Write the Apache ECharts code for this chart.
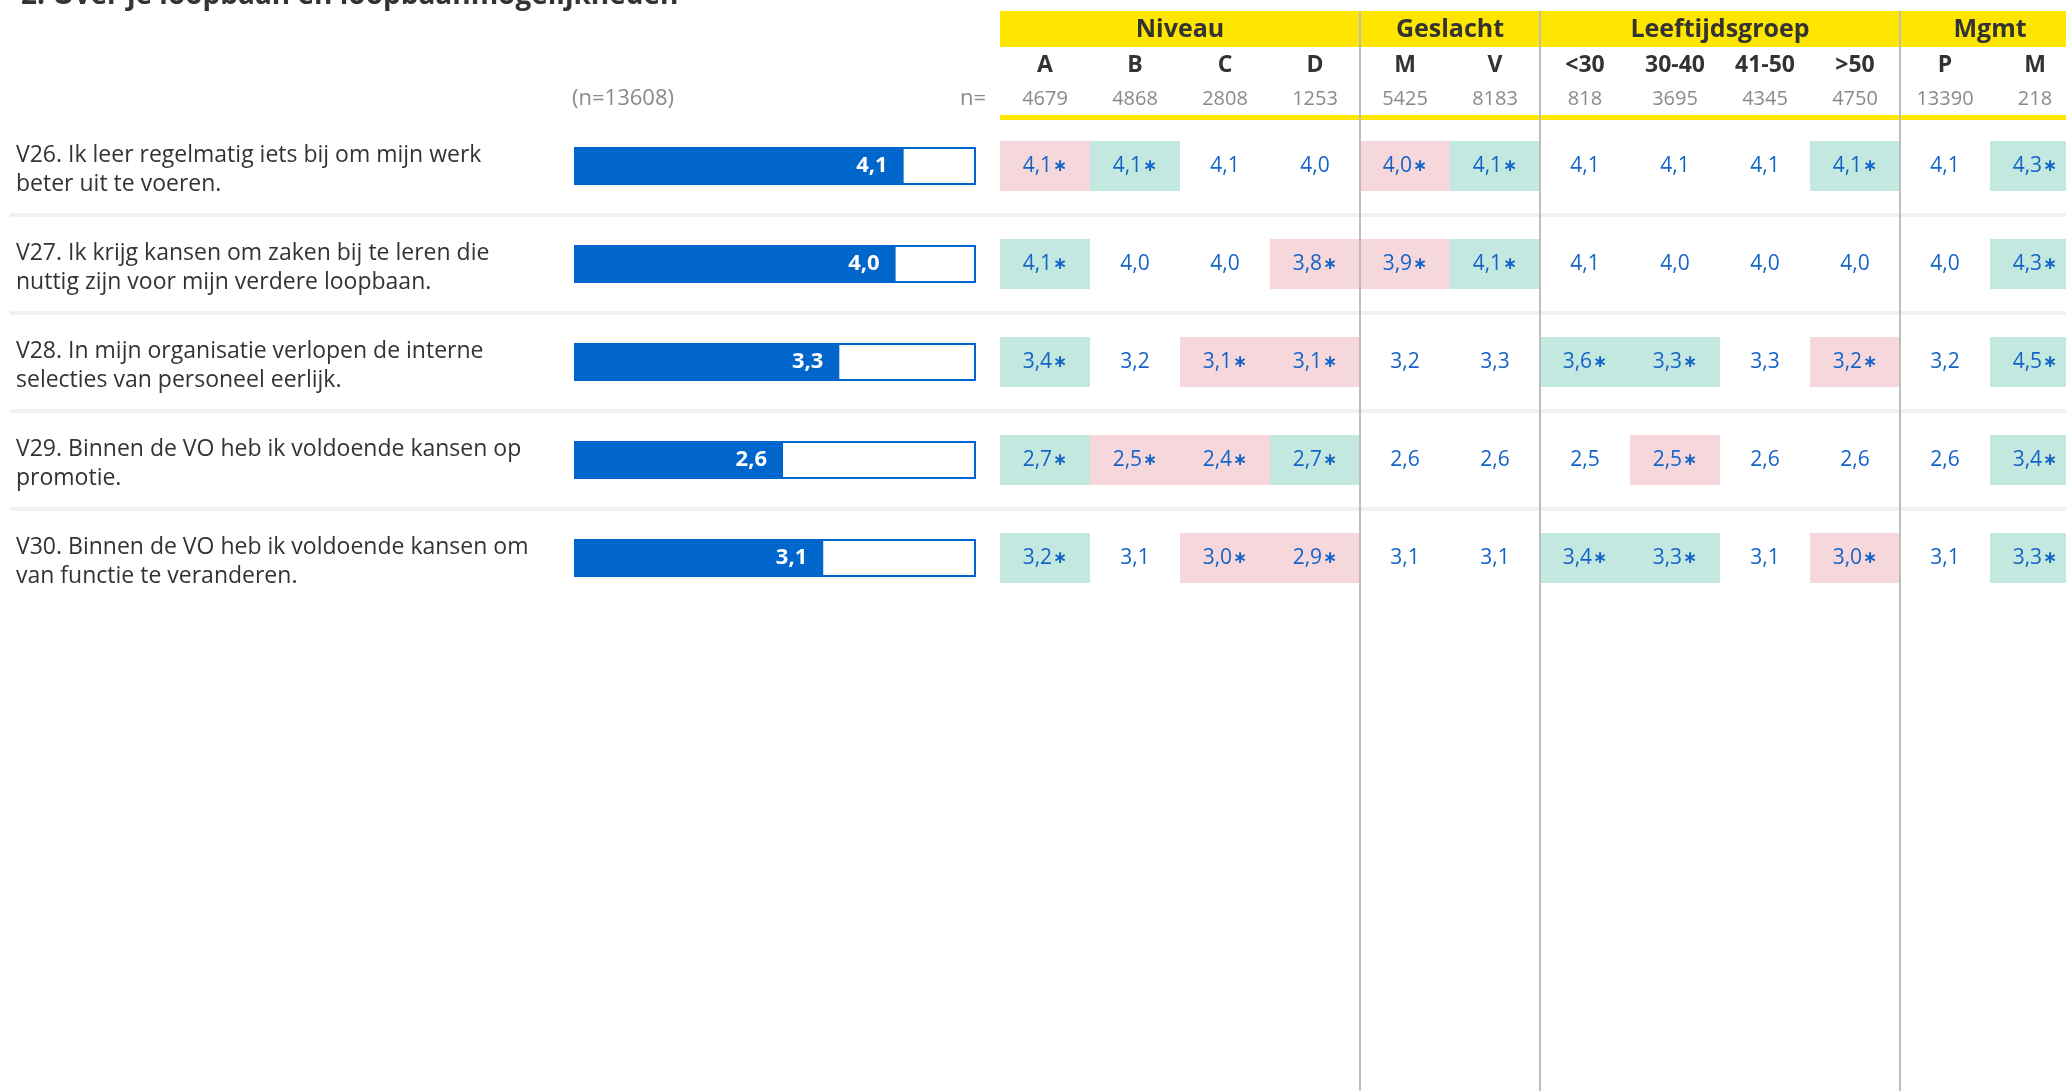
<!DOCTYPE html>
<html>
<head>
<meta charset="utf-8">
<title>Loopbaan en loopbaanmogelijkheden</title>
<script src="https://cdn.jsdelivr.net/npm/echarts@6/dist/echarts.min.js"></script>
<style>
html, body { margin: 0; padding: 0; background: #ffffff; }
#surveyChart { width: 2066px; height: 1091px; }
</style>
</head>
<body>
<div id="surveyChart"></div>
<script>
// gegevens
var titleText = '2. Over je loopbaan en loopbaanmogelijkheden';
var totalN = 13608;
var questions = [
	'V26. Ik leer regelmatig iets bij om mijn werk\nbeter uit te voeren.',
	'V27. Ik krijg kansen om zaken bij te leren die\nnuttig zijn voor mijn verdere loopbaan.',
	'V28. In mijn organisatie verlopen de interne\nselecties van personeel eerlijk.',
	'V29. Binnen de VO heb ik voldoende kansen op\npromotie.',
	'V30. Binnen de VO heb ik voldoende kansen om\nvan functie te veranderen.'
];
var totalScores = [4.1, 4.0, 3.3, 2.6, 3.1];
var maxScore = 5;
var groups = ['Niveau', 'Geslacht', 'Leeftijdsgroep', 'Mgmt'];
var groupSpans = [4, 2, 4, 2];
var columns = ['A', 'B', 'C', 'D', 'M', 'V', '<30', '30-40', '41-50', '>50', 'P', 'M'];
var nValues = [4679, 4868, 2808, 1253, 5425, 8183, 818, 3695, 4345, 4750, 13390, 218];
var cellValues = [
	[4.1, 4.1, 4.1, 4.0, 4.0, 4.1, 4.1, 4.1, 4.1, 4.1, 4.1, 4.3],
	[4.1, 4.0, 4.0, 3.8, 3.9, 4.1, 4.1, 4.0, 4.0, 4.0, 4.0, 4.3],
	[3.4, 3.2, 3.1, 3.1, 3.2, 3.3, 3.6, 3.3, 3.3, 3.2, 3.2, 4.5],
	[2.7, 2.5, 2.4, 2.7, 2.6, 2.6, 2.5, 2.5, 2.6, 2.6, 2.6, 3.4],
	[3.2, 3.1, 3.0, 2.9, 3.1, 3.1, 3.4, 3.3, 3.1, 3.0, 3.1, 3.3]
];
// 1 = significant hoger, -1 = significant lager, 0 = niet significant
var cellSig = [
	[-1, 1, 0, 0, -1, 1, 0, 0, 0, 1, 0, 1],
	[1, 0, 0, -1, -1, 1, 0, 0, 0, 0, 0, 1],
	[1, 0, -1, -1, 0, 0, 1, 1, 0, -1, 0, 1],
	[1, -1, -1, 1, 0, 0, 0, -1, 0, 0, 0, 1],
	[1, 0, -1, -1, 0, 0, 1, 1, 0, -1, 0, 1]
];

// layout
var FONT = 'Open Sans';
var rowTop = 117, rowH = 98;
var barLeft = 574, barWidth = 402;
var tableLeft = 1000, colW = 90;
var blue = '#0066cc';
var textBlue = '#1464c8';

var myChart;

$ready(function() {
	chartInit();
	chartSetting();
});

function $ready(fn) {
	if (document.readyState !== 'loading') fn();
	else document.addEventListener('DOMContentLoaded', fn);
}

function chartInit() {
	myChart = echarts.init(document.getElementById('surveyChart'), null, { renderer: 'canvas' });
	window.onresize = myChart.resize;
}

// komma als decimaalteken
function fmt(v) {
	return v.toFixed(1).replace('.', ',');
}

function buildCells() {
	var out = [];
	for (var r = 0; r < cellValues.length; r++) {
		for (var c = 0; c < cellValues[r].length; c++) {
			out.push([c, r, cellValues[r][c], cellSig[r][c]]);
		}
	}
	return out;
}

// gele kop + groepsnamen
function headerGraphics() {
	var els = [];
	var tableRight = 2066;
	els.push({ type: 'rect', z: -5, shape: { x: tableLeft, y: 11, width: tableRight - tableLeft, height: 36 }, style: { fill: '#ffe600' } });
	els.push({ type: 'rect', z: -5, shape: { x: tableLeft, y: 115, width: tableRight - tableLeft, height: 5 }, style: { fill: '#ffe600' } });
	var start = 0;
	for (var i = 0; i < groups.length; i++) {
		var cx = tableLeft + (start + groupSpans[i] / 2) * colW;
		els.push({
			type: 'text', z: 10, x: cx, y: 30,
			style: { text: groups[i], font: 'bold 25px "' + FONT + '"', fill: '#333333', align: 'center', verticalAlign: 'middle' }
		});
		start += groupSpans[i];
	}
	els.push({
		type: 'text', x: barLeft - 2, y: 99,
		style: { text: '(n=' + totalN + ')', font: '22px "' + FONT + '"', fill: '#8a8a8a', align: 'left', verticalAlign: 'middle' }
	});
	els.push({
		type: 'text', x: 986, y: 99,
		style: { text: 'n=', font: '22px "' + FONT + '"', fill: '#8a8a8a', align: 'right', verticalAlign: 'middle' }
	});
	return els;
}

function chartSetting() {
	var groupEnds = [];
	var acc = 0;
	for (var i = 0; i < groupSpans.length - 1; i++) {
		acc += groupSpans[i];
		groupEnds.push(acc);
	}
	var tableWidth = colW * columns.length;
	var option = {
		animation: false,
		backgroundColor: '#ffffff',
		textStyle: { fontFamily: FONT },
		title: {
			text: titleText,
			left: 16,
			top: -23,
			textStyle: { fontFamily: FONT, fontSize: 28, fontWeight: 'bold', color: '#333333' }
		},
		graphic: headerGraphics(),
		grid: [
			// 0: balkjes
			{ left: barLeft, width: barWidth, top: rowTop, height: rowH * questions.length, outerBoundsMode: 'none' },
			// 1: tabel
			{ left: tableLeft, width: tableWidth, top: rowTop, height: rowH * questions.length, outerBoundsMode: 'none' },
			// 2: verticale scheidingslijnen
			{ left: tableLeft, width: tableWidth, top: 11, bottom: 0, outerBoundsMode: 'none' },
			// 3: horizontale scheidingslijnen
			{ left: 10, right: 0, top: rowTop + rowH, height: rowH * (questions.length - 2), outerBoundsMode: 'none' }
		],
		xAxis: [
			{ gridIndex: 0, type: 'value', min: 0, max: maxScore, show: false },
			{
				gridIndex: 1, type: 'category', position: 'top', data: columns,
				axisLine: { show: false }, axisTick: { show: false },
				axisLabel: {
					margin: 1, interval: 0,
					formatter: function(value, idx) {
						return '{a|' + columns[idx] + '}\n{n|' + nValues[idx] + '}';
					},
					rich: {
						a: { fontFamily: FONT, fontSize: 23, fontWeight: 'bold', color: '#333333', lineHeight: 34 },
						n: { fontFamily: FONT, fontSize: 20, color: '#8a8a8a', lineHeight: 34 }
					}
				}
			},
			{
				gridIndex: 2, type: 'category', data: columns, z: 5,
				axisLine: { show: false }, axisTick: { show: false }, axisLabel: { show: false },
				splitLine: {
					show: true,
					interval: function(idx) { return groupEnds.indexOf(idx) >= 0; },
					lineStyle: { color: '#bdbdbd', width: 2 }
				}
			},
			{ gridIndex: 3, type: 'value', show: false }
		],
		yAxis: [
			{
				gridIndex: 0, type: 'category', inverse: true, data: questions,
				axisLine: { show: false }, axisTick: { show: false },
				axisLabel: {
					align: 'left', margin: barLeft - 16,
					fontFamily: FONT, fontSize: 23, color: '#333333', lineHeight: 33,
					formatter: function(value) {
						var lines = value.split('\n');
						return '{f|' + lines[0] + '}\n{q|' + lines[1] + '}';
					},
					rich: {
						f: { fontFamily: FONT, fontSize: 23, color: '#333333', lineHeight: 33, padding: [12, 0, 0, 0] },
						q: { fontFamily: FONT, fontSize: 23, color: '#333333', lineHeight: 33, padding: [4, 0, 0, 0] }
					}
				}
			},
			{ gridIndex: 1, type: 'category', inverse: true, data: questions, show: false },
			{ gridIndex: 2, type: 'value', min: 0, max: 1, show: false },
			{
				gridIndex: 3, type: 'value', min: 1, max: questions.length - 1, interval: 1, inverse: true,
				axisLine: { show: false }, axisTick: { show: false }, axisLabel: { show: false },
				splitLine: { show: true, lineStyle: { color: '#f0f0f0', width: 4 } }
			}
		],
		series: [
			{
				name: 'schaal', type: 'bar', xAxisIndex: 0, yAxisIndex: 0,
				barWidth: 38, silent: true, z: 1,
				itemStyle: { color: '#ffffff', borderColor: blue, borderWidth: 2 },
				data: questions.map(function() { return maxScore; })
			},
			{
				name: 'gemiddelde', type: 'bar', xAxisIndex: 0, yAxisIndex: 0,
				barWidth: 38, barGap: '-100%', z: 2,
				itemStyle: { color: blue },
				label: {
					show: true, position: 'insideRight', distance: 16,
					fontFamily: FONT, fontSize: 22, fontWeight: 'bold', color: '#ffffff',
					formatter: function(p) { return fmt(p.value); }
				},
				data: totalScores
			},
			{
				name: 'subgroepen', type: 'scatter', xAxisIndex: 1, yAxisIndex: 1,
				symbol: 'rect', symbolSize: [colW, 50], z: 2,
				itemStyle: {
					opacity: 1,
					color: function(p) {
						var s = p.value[3];
						if (s > 0) return '#c3e8e0';
						if (s < 0) return '#f5d7dc';
						return 'rgba(255,255,255,0)';
					}
				},
				label: {
					show: true, position: 'inside',
					fontFamily: FONT, fontSize: 21, color: textBlue,
					formatter: function(p) {
						var t = fmt(p.value[2]);
						return p.value[3] !== 0 ? t + '{s|\u2217}' : t;
					},
					rich: {
						s: { fontFamily: 'DejaVu Sans', fontSize: 17, fontWeight: 'bold', color: textBlue, padding: [2, 0, 0, 1] }
					}
				},
				emphasis: { disabled: true },
				data: buildCells()
			}
		]
	};
	myChart.setOption(option);
}
</script>
</body>
</html>
